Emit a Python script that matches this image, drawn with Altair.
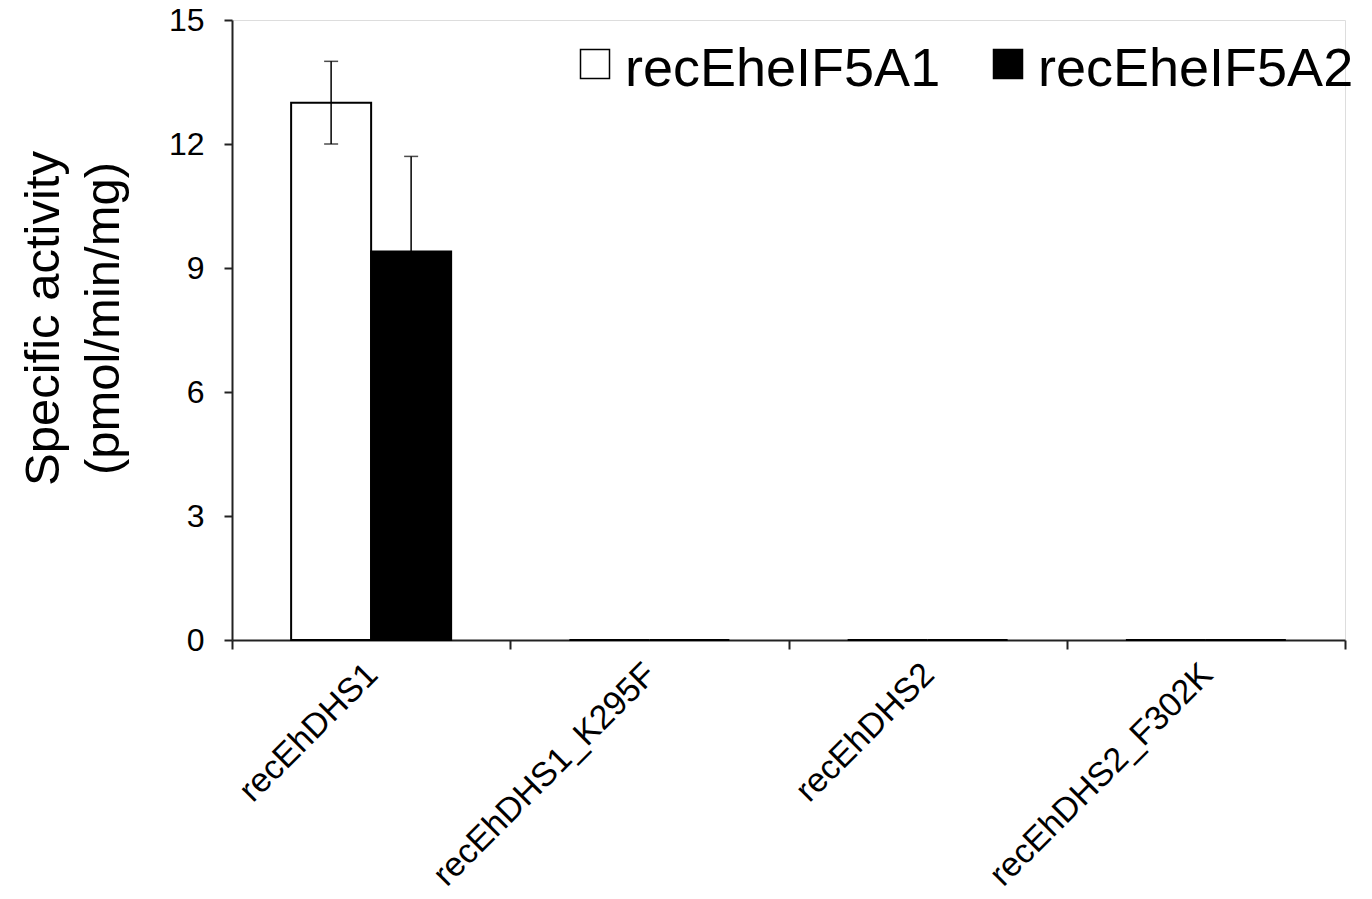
import altair as alt
import pandas as pd

categories = ["recEhDHS1", "recEhDHS1_K295F", "recEhDHS2", "recEhDHS2_F302K"]
series = ["recEheIF5A1", "recEheIF5A2"]
eif5a1_values = [13.0, 0.0, 0.0, 0.0]
eif5a1_errors = [1.0, 0.0, 0.0, 0.0]
eif5a2_values = [9.4, 0.0, 0.0, 0.0]
eif5a2_errors = [2.3, 0.0, 0.0, 0.0]
y_ticks = [0, 3, 6, 9, 12, 15]
y_title = ["Specific activity", "(pmol/min/mg)"]

rows = []
for i, c in enumerate(categories):
    for s, vals, errs in ((series[0], eif5a1_values, eif5a1_errors),
                          (series[1], eif5a2_values, eif5a2_errors)):
        rows.append({"category": c, "series": s, "value": vals[i],
                     "lo": vals[i] - errs[i], "hi": vals[i] + errs[i], "err": errs[i]})
df = pd.DataFrame(rows)

FONT = "Liberation Sans"
W, H = 1113, 620
# square legend key, nudged slightly upward relative to its label
LEGEND_KEY = "M-1,-1.41H1V0.59H-1Z"

x_enc = alt.X(
    "category:N", sort=categories,
    scale=alt.Scale(paddingInner=0, paddingOuter=0),
    axis=alt.Axis(
        title=None, tickBand="extent", labelAngle=-45, labelAlign="right",
        labelBaseline="top", labelOffset=-11, labelPadding=8, tickSize=9,
        labelFontSize=34, labelFont=FONT, labelColor="black", labelLimit=0,
        domainColor="#222222", domainWidth=2, tickColor="#222222", tickWidth=2,
        grid=False,
    ),
)
xoff_enc = alt.XOffset("series:N", sort=series,
                       scale=alt.Scale(paddingOuter=0.739, paddingInner=0))
y_scale = alt.Scale(domain=[0, 15], nice=False)

bars = alt.Chart(df).mark_bar(stroke="black", strokeWidth=2).encode(
    x=x_enc,
    xOffset=xoff_enc,
    y=alt.Y(
        "value:Q", scale=y_scale,
        axis=alt.Axis(
            values=y_ticks, title=y_title, titleFontSize=49, titleLineHeight=60,
            titleFont=FONT, titleFontWeight="normal", titleColor="black",
            titleX=-174, titleY=298, titleAngle=270, titleAlign="center",
            titleBaseline="alphabetic",
            labelFontSize=32, labelFont=FONT, labelColor="black", labelPadding=20,
            tickSize=8, tickColor="#222222", tickWidth=2,
            domainColor="#222222", domainWidth=2, grid=False,
        ),
    ),
    fill=alt.Fill(
        "series:N", sort=series,
        scale=alt.Scale(domain=series, range=["white", "black"]),
        legend=alt.Legend(
            title=None, orient="none", legendX=336, legendY=23,
            direction="horizontal", symbolType=LEGEND_KEY, symbolSize=841,
            symbolStrokeColor="black", symbolStrokeWidth=1.5, symbolOpacity=1,
            labelFontSize=54, labelFont=FONT, labelColor="black", labelLimit=0,
            labelOffset=3, columnPadding=40, padding=0,
        ),
    ),
)

err_base = alt.Chart(df).transform_filter(alt.datum.err > 0)
err_rule = err_base.mark_rule(color="black", strokeWidth=1.5).encode(
    x=alt.X("category:N", sort=categories),
    xOffset=alt.XOffset("series:N", sort=series),
    y=alt.Y("lo:Q", scale=y_scale),
    y2="hi:Q",
)
cap_hi = err_base.mark_tick(color="black", thickness=1.5, size=14, orient="horizontal").encode(
    x=alt.X("category:N", sort=categories),
    xOffset=alt.XOffset("series:N", sort=series),
    y=alt.Y("hi:Q", scale=y_scale),
)
cap_lo = err_base.mark_tick(color="black", thickness=1.5, size=14, orient="horizontal").encode(
    x=alt.X("category:N", sort=categories),
    xOffset=alt.XOffset("series:N", sort=series),
    y=alt.Y("lo:Q", scale=y_scale),
)

chart = alt.layer(bars, err_rule, cap_hi, cap_lo).properties(
    width=W, height=H,
    padding={"left": 224, "top": 12, "right": 18, "bottom": 258},
    autosize=alt.AutoSizeParams(type="none"),
).configure_view(stroke=None).configure(background="white")

chart.save("out.html", embed_options={"renderer": "svg", "actions": False})
